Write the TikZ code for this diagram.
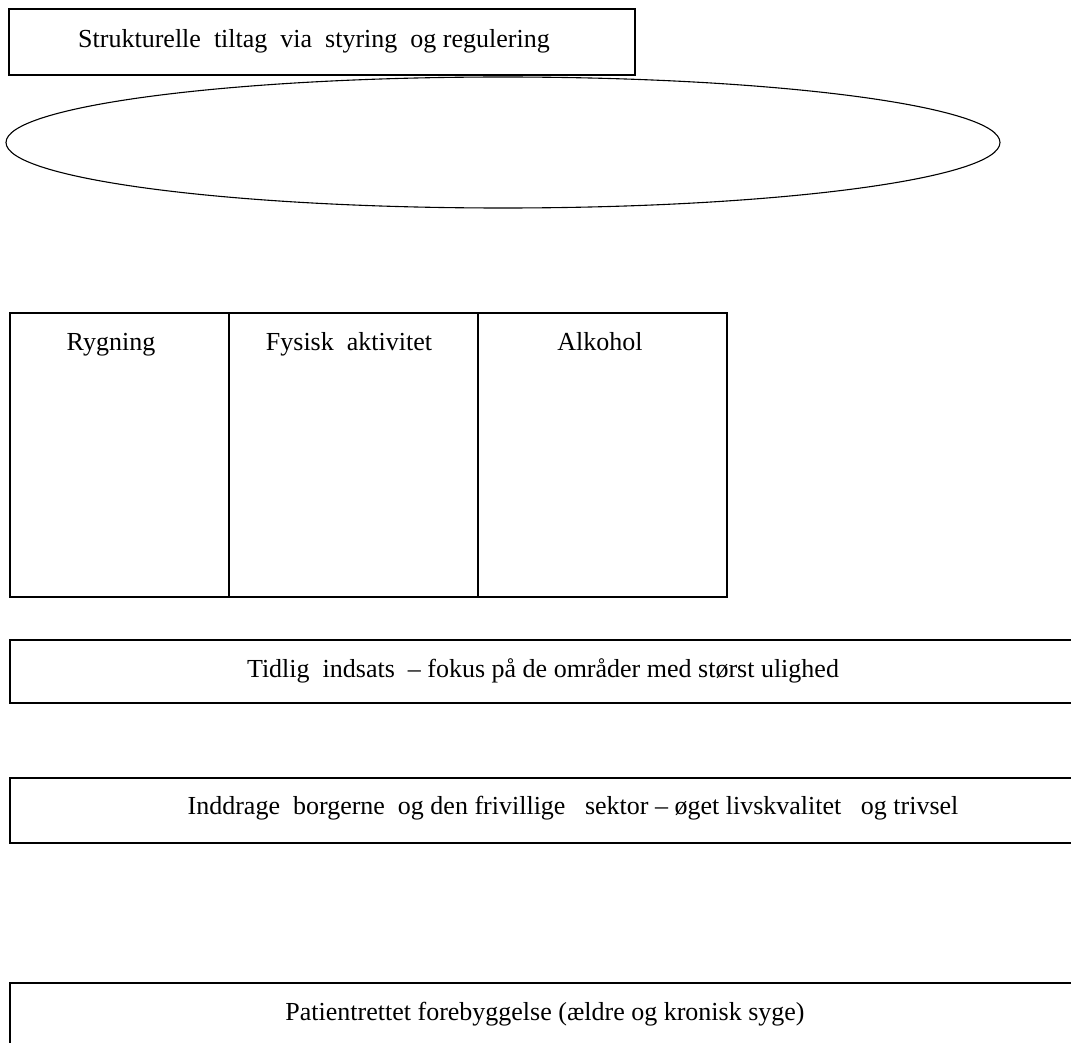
\documentclass[tikz,border=0pt]{standalone}
\usepackage{fontspec}
\setmainfont{Liberation Serif}
\begin{document}
\begin{tikzpicture}[x=1pt,y=-1pt,
  box/.style={draw=black,line width=1.5pt},
  lbl/.style={font=\fontsize{26}{30}\selectfont,inner sep=0pt,anchor=base}]
\useasboundingbox[fill=white] (0,0) rectangle (1071,1043);
\begin{scope}
\clip (0,0) rectangle (1071,1043);
% top box
\draw[box] (9,9) rectangle (635,75);
\node[lbl] (t1) at (314,48) {Strukturelle\ \ tiltag\ \ via\ \ styring\ \ og regulering};
% ellipse
\draw[line width=1.1pt] (503,142.5) ellipse [x radius=497, y radius=65.5];
% three columns
\draw[box] (10,313) rectangle (727,597);
\draw[box] (229,313) -- (229,597);
\draw[box] (478,313) -- (478,597);
\node[lbl] (c1) at (111,350) {Rygning};
\node[lbl] (c2) at (349,350) {Fysisk\ \ aktivitet};
\node[lbl] (c3) at (600,350) {Alkohol};
% bars
\draw[box] (10,640) rectangle (1090,703);
\node[lbl] (b1) at (543,677) {Tidlig\ \ indsats\ \ -- fokus på de områder med størst ulighed};
\draw[box] (10,778) rectangle (1090,843);
\node[lbl] (b2) at (573,814) {Inddrage\ \ borgerne\ \ og den frivillige\ \ \ sektor -- øget livskvalitet\ \ \ og trivsel};
\draw[box] (10,983) rectangle (1090,1060);
\node[lbl] (b3) at (545,1020) {Patientrettet forebyggelse (ældre og kronisk syge)};
\end{scope}
\end{tikzpicture}
\end{document}
